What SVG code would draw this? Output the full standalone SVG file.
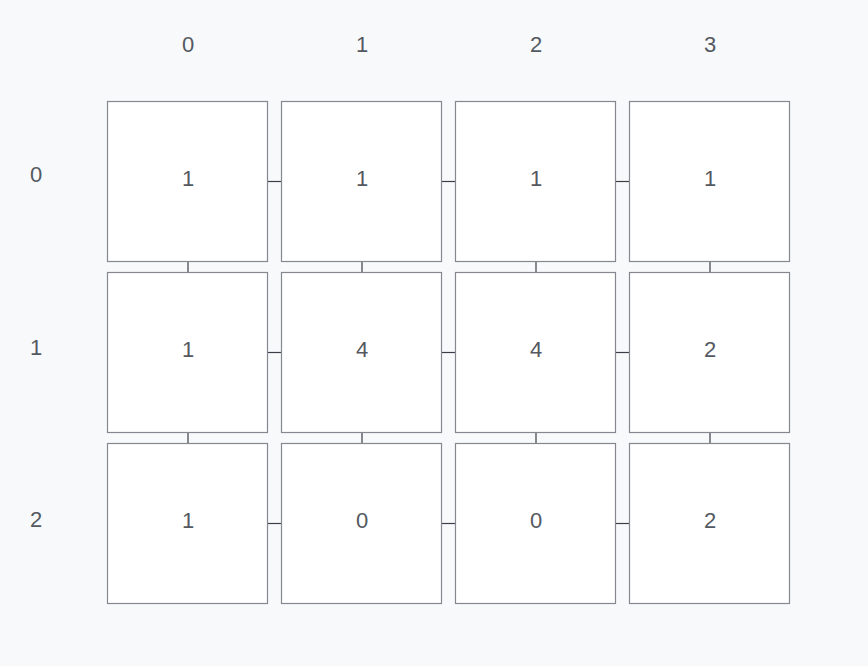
<svg xmlns="http://www.w3.org/2000/svg" width="868" height="666" viewBox="0 0 868 666">
<style>
.bg{fill:#f8f9fb}
.cell rect{fill:#ffffff;stroke:#85888e;stroke-width:1.2}
text{font-family:"Liberation Sans",Arial,sans-serif;font-size:22px;fill:#545961;text-anchor:middle}
.conn line{stroke:#3a3e46;stroke-width:1.2}
</style>
<rect class="bg" x="0" y="0" width="868" height="666"/>
<g id="col-headers">
<text x="188" y="51.5">0</text>
<text x="362" y="51.5">1</text>
<text x="536" y="51.5">2</text>
<text x="710" y="51.5">3</text>
</g>
<g id="row-headers">
<text x="36" y="182">0</text>
<text x="36" y="354.5">1</text>
<text x="36" y="526.5">2</text>
</g>
<g id="connectors" class="conn">
<line x1="267.5" y1="181.5" x2="281.5" y2="181.5"/>
<line x1="441.5" y1="181.5" x2="455.5" y2="181.5"/>
<line x1="615.5" y1="181.5" x2="629.5" y2="181.5"/>
<line x1="267.5" y1="352.5" x2="281.5" y2="352.5"/>
<line x1="441.5" y1="352.5" x2="455.5" y2="352.5"/>
<line x1="615.5" y1="352.5" x2="629.5" y2="352.5"/>
<line x1="267.5" y1="523.5" x2="281.5" y2="523.5"/>
<line x1="441.5" y1="523.5" x2="455.5" y2="523.5"/>
<line x1="615.5" y1="523.5" x2="629.5" y2="523.5"/>
<line x1="188" y1="261.5" x2="188" y2="272.5"/>
<line x1="362" y1="261.5" x2="362" y2="272.5"/>
<line x1="536" y1="261.5" x2="536" y2="272.5"/>
<line x1="710" y1="261.5" x2="710" y2="272.5"/>
<line x1="188" y1="432.5" x2="188" y2="443.5"/>
<line x1="362" y1="432.5" x2="362" y2="443.5"/>
<line x1="536" y1="432.5" x2="536" y2="443.5"/>
<line x1="710" y1="432.5" x2="710" y2="443.5"/>
</g>
<g id="cell-0-0" class="cell"><rect x="107.5" y="101.5" width="160" height="160"/><text x="188" y="185.5">1</text></g>
<g id="cell-0-1" class="cell"><rect x="281.5" y="101.5" width="160" height="160"/><text x="362" y="185.5">1</text></g>
<g id="cell-0-2" class="cell"><rect x="455.5" y="101.5" width="160" height="160"/><text x="536" y="185.5">1</text></g>
<g id="cell-0-3" class="cell"><rect x="629.5" y="101.5" width="160" height="160"/><text x="710" y="185.5">1</text></g>
<g id="cell-1-0" class="cell"><rect x="107.5" y="272.5" width="160" height="160"/><text x="188" y="356.5">1</text></g>
<g id="cell-1-1" class="cell"><rect x="281.5" y="272.5" width="160" height="160"/><text x="362" y="356.5">4</text></g>
<g id="cell-1-2" class="cell"><rect x="455.5" y="272.5" width="160" height="160"/><text x="536" y="356.5">4</text></g>
<g id="cell-1-3" class="cell"><rect x="629.5" y="272.5" width="160" height="160"/><text x="710" y="356.5">2</text></g>
<g id="cell-2-0" class="cell"><rect x="107.5" y="443.5" width="160" height="160"/><text x="188" y="527.5">1</text></g>
<g id="cell-2-1" class="cell"><rect x="281.5" y="443.5" width="160" height="160"/><text x="362" y="527.5">0</text></g>
<g id="cell-2-2" class="cell"><rect x="455.5" y="443.5" width="160" height="160"/><text x="536" y="527.5">0</text></g>
<g id="cell-2-3" class="cell"><rect x="629.5" y="443.5" width="160" height="160"/><text x="710" y="527.5">2</text></g>
</svg>
